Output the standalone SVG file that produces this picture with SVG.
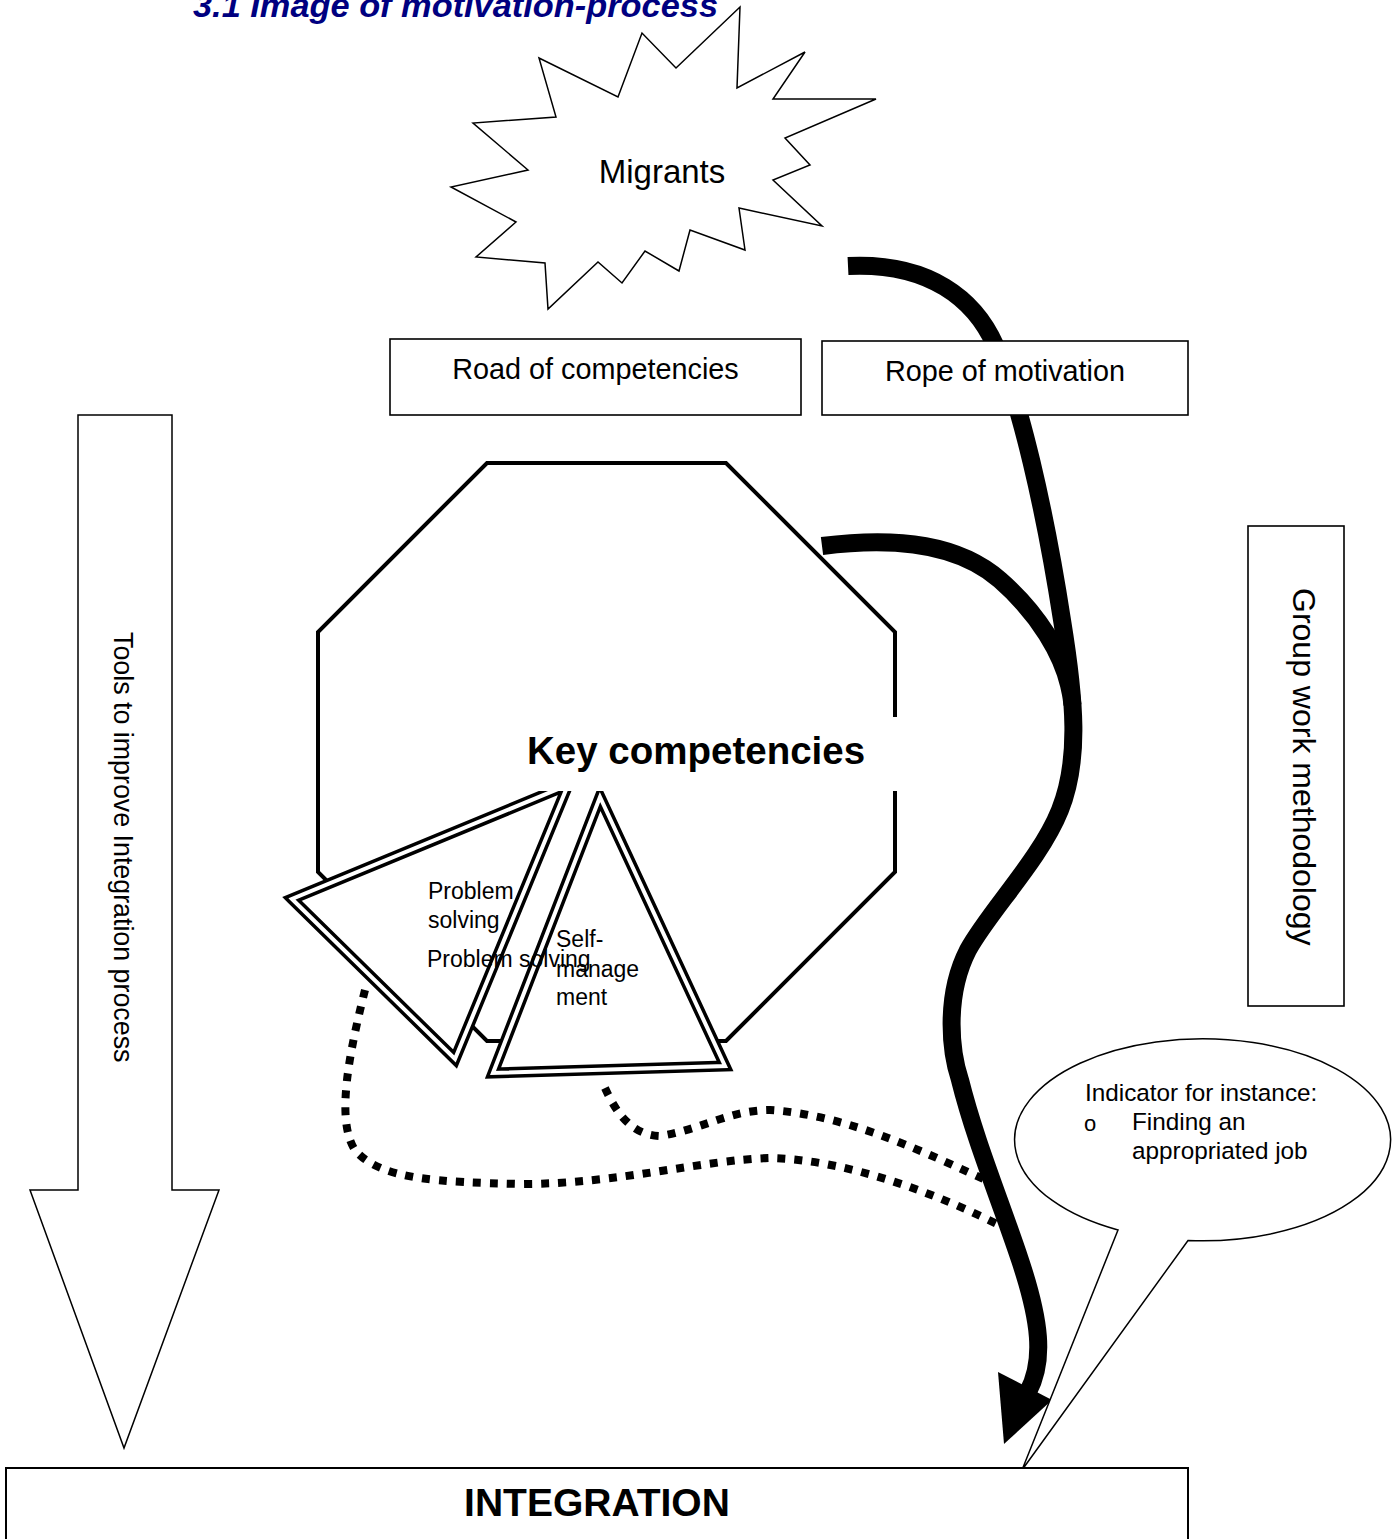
<svg xmlns="http://www.w3.org/2000/svg" width="1399" height="1539" viewBox="0 0 1399 1539">
<style>
  text { font-family: "Liberation Sans", Arial, sans-serif; fill: #000; }
  .box { fill: #fff; stroke: #000; stroke-width: 1.6; }
  .thin { fill: #fff; stroke: #000; stroke-width: 1.5; stroke-linejoin: miter; }
  .rope { fill: none; stroke: #000; stroke-width: 18; stroke-linecap: butt; }
  .dots { fill: none; stroke: #000; stroke-width: 8; stroke-dasharray: 8 9; }
  .triOuter { fill: #fff; stroke: #000; stroke-width: 11; stroke-linejoin: miter; }
  .triInner { fill: none; stroke: #fff; stroke-width: 4; stroke-linejoin: miter; }
  .lbl { font-size: 28.8px; }
  .small { font-size: 23px; }
  .bub { font-size: 24.3px; }
</style>

<text id="title" x="193" y="17" font-size="33" font-weight="bold" font-style="italic" textLength="525" lengthAdjust="spacingAndGlyphs" style="fill:#000080">3.1 Image of motivation-process</text>

<g id="tools-arrow">
  <polygon class="thin" points="78,415 172,415 172,1190 219,1190 124,1448 30,1190 78,1190"/>
  <text transform="translate(114,632) rotate(90)" font-size="26.8">Tools to improve Integration process</text>
</g>

<g id="key-competencies">
  <polygon points="487,463 726,463 895,632 895,872 726,1041 487,1041 318,872 318,632" fill="#fff" stroke="#000" stroke-width="4"/>
</g>

<g id="problem-solving">
  <polygon class="triOuter" points="292,899 455,1059 568,785"/>
  <polygon class="triInner" points="292,899 455,1059 568,785"/>
</g>

<g id="self-management">
  <polygon class="triOuter" points="600,797 493,1073 725,1066"/>
  <polygon class="triInner" points="600,797 493,1073 725,1066"/>
</g>

<g id="key-label">
  <rect x="420" y="717" width="481" height="74" fill="#fff"/>
  <text x="527" y="764" font-size="38.5" font-weight="bold">Key competencies</text>
</g>

<g id="triangle-labels">
  <text class="small" x="428" y="899">Problem</text>
  <text class="small" x="428" y="928">solving</text>
  <text class="small" x="427" y="967">Problem solving</text>
  <text class="small" x="556" y="947">Self-</text>
  <text class="small" x="556" y="977">manage</text>
  <text class="small" x="556" y="1005">ment</text>
</g>

<g id="connectors">
  <path class="dots" d="M 365,990 C 350,1050 335,1120 355,1150 C 380,1180 440,1182 520,1184 C 620,1184 700,1160 770,1158 C 850,1160 940,1195 1005,1228"/>
  <path class="dots" d="M 605,1088 C 615,1110 630,1135 660,1136 C 700,1130 730,1110 770,1110 C 850,1115 930,1155 990,1182"/>
  <path class="rope" d="M 848,266 C 930,262 975,300 995,345 C 1020,400 1045,510 1062,620 C 1075,700 1080,760 1060,810 C 1040,860 990,910 968,950 C 945,995 950,1050 960,1080 C 975,1140 1000,1200 1020,1260 C 1040,1320 1045,1360 1028,1392"/>
  <path class="rope" d="M 822,546 C 900,536 960,545 1000,580 C 1040,615 1062,655 1069,685 C 1071,693 1072,699 1072.5,705"/>
  <polygon points="998,1372 1052,1400 1004,1444" fill="#000"/>
</g>

<g id="road-box">
  <rect class="box" x="390" y="339" width="411" height="76"/>
  <text class="lbl" x="595.5" y="379" text-anchor="middle">Road of competencies</text>
</g>

<g id="rope-box">
  <rect class="box" x="822" y="341" width="366" height="74"/>
  <text class="lbl" x="1005" y="381" text-anchor="middle">Rope of motivation</text>
</g>

<g id="group-work">
  <rect class="box" x="1248" y="526" width="96" height="480"/>
  <text transform="translate(1293,588) rotate(90)" font-size="32">Group work methodology</text>
</g>

<g id="indicator">
  <path class="thin" d="M 1118,1230 L 1022,1470 L 1188,1240.5 A 188 101 0 1 0 1118,1230 Z"/>
  <text class="bub" x="1085" y="1101">Indicator for instance:</text>
  <text x="1084" y="1131" font-size="22">o</text>
  <text class="bub" x="1132" y="1130">Finding an</text>
  <text class="bub" x="1132" y="1159">appropriated job</text>
</g>

<g id="integration">
  <rect x="6" y="1468" width="1182" height="90" fill="#fff" stroke="#000" stroke-width="2"/>
  <text x="597" y="1516" font-size="39" font-weight="bold" text-anchor="middle">INTEGRATION</text>
</g>

<g id="migrants">
  <polygon class="thin" points="740,7 737,88 805,52 773,99 876,99 785,138 810,165 773,180 822,226 739,208 745,250 690,230 679,271 645,251 622,283 598,262 548,309 545,263 476,257 516,222 451,187 528,170 473,123 556,117 539,58 618,97 642,33 676,68"/>
  <text x="662" y="183" font-size="33" text-anchor="middle">Migrants</text>
</g>
</svg>
